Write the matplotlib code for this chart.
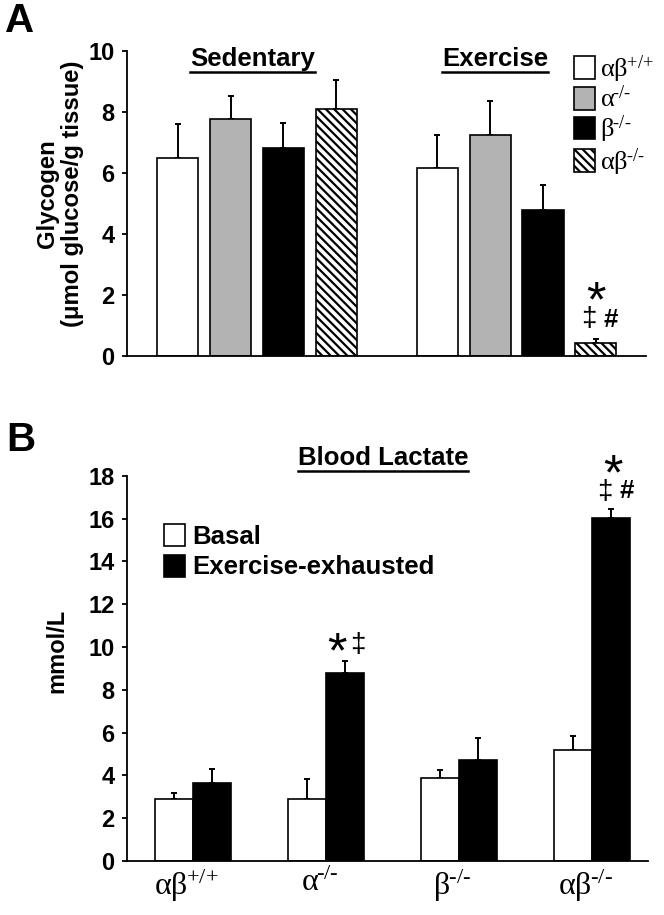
import matplotlib
matplotlib.use("Agg")
import matplotlib.pyplot as plt
from matplotlib.patches import Patch
from matplotlib.lines import Line2D
import numpy as np

plt.rcParams['font.family'] = ['Liberation Sans', 'DejaVu Sans']
plt.rcParams['mathtext.fontset'] = 'custom'
plt.rcParams['mathtext.rm'] = 'Liberation Serif'
plt.rcParams['mathtext.it'] = 'Liberation Serif'
plt.rcParams['mathtext.bf'] = 'Liberation Serif:bold'
plt.rcParams['mathtext.sf'] = 'Liberation Sans'
plt.rcParams['hatch.linewidth'] = 1.6

# ---- Panel A data ----
genotypes_A = [r'$\alpha\beta^{\!\text{+/+}}$', r'$\alpha^{\!\text{-/-}}$', r'$\beta^{\!\text{-/-}}$', r'$\alpha\beta^{\!\text{-/-}}$']
sed_glycogen = [6.48, 7.76, 6.8, 8.1]
sed_err = [1.12, 0.76, 0.84, 0.94]
ex_glycogen = [6.15, 7.22, 4.78, 0.42]
ex_err = [1.07, 1.13, 0.83, 0.13]
conditions_A = ['Sedentary', 'Exercise']

# ---- Panel B data ----
genotypes_B = [r'$\alpha\beta^{\!\text{+/+}}$', r'$\alpha^{\!\text{-/-}}$', r'$\beta^{\!\text{-/-}}$', r'$\alpha\beta^{\!\text{-/-}}$']
basal_lactate = [2.9, 2.9, 3.9, 5.2]
basal_err = [0.28, 0.95, 0.35, 0.64]
exh_lactate = [3.66, 8.8, 4.73, 16.03]
exh_err = [0.64, 0.55, 1.0, 0.43]
series_B = ['Basal', 'Exercise-exhausted']

W, H = 664, 915
fig = plt.figure(figsize=(W/100, H/100), dpi=100)

def px_axes(l, t, r, b):
    return fig.add_axes([l/W, 1-b/H, (r-l)/W, (b-t)/H])

styles = [dict(facecolor='white', hatch=None),
          dict(facecolor='#b3b3b3', hatch=None),
          dict(facecolor='black', hatch=None),
          dict(facecolor='white', hatch='\\\\\\\\')]

def style_axes(ax):
    for s in ['top', 'right']:
        ax.spines[s].set_visible(False)
    for s in ['left', 'bottom']:
        ax.spines[s].set_linewidth(1.3)
    ax.tick_params(axis='y', labelsize=17, width=1.3, length=3.5, pad=5)
    for lab in ax.get_yticklabels():
        lab.set_fontweight('bold')

# ---------- Panel A ----------
axA = px_axes(126.5, 50.7, 646, 355.7)
bw = 0.78
offset = 4.92
for gi, (vals, errs) in enumerate([(sed_glycogen, sed_err), (ex_glycogen, ex_err)]):
    xs = np.arange(4) + gi*offset
    for i in range(4):
        st = styles[i]
        axA.bar(xs[i], vals[i], width=bw, color=st['facecolor'], edgecolor='black',
                hatch=st['hatch'], linewidth=1.2, zorder=2)
        axA.errorbar(xs[i], vals[i], yerr=[[0], [errs[i]]], fmt='none', ecolor='black',
                     elinewidth=1.4, capsize=2.5, capthick=1.4, zorder=1)
axA.set_xlim(-0.97, 8.87)
axA.set_ylim(0, 10)
axA.set_yticks([0, 2, 4, 6, 8, 10])
axA.tick_params(axis='x', length=0, labelbottom=False)
style_axes(axA)
fig.text(60/W, 1-194/H, 'Glycogen\n(\u03bcmol glucose/g tissue)', rotation=90,
         ha='center', va='center', fontsize=17.2, fontweight='bold', linespacing=1.1)

tA = []
tA.append(fig.text(252.5/W, 1-59/H, conditions_A[0], ha='center', va='center', fontsize=18.5, fontweight='bold'))
tA.append(fig.text(495/W, 1-59/H, conditions_A[1], ha='center', va='center', fontsize=18.5, fontweight='bold'))

# Legend A
handlesA = [Patch(facecolor=s['facecolor'], edgecolor='black', hatch=s['hatch'], linewidth=1.2) for s in styles]
legA = fig.legend(handlesA, genotypes_A, loc='upper left', bbox_to_anchor=(574/W, 1-53/H),
                  frameon=False, fontsize=19, handlelength=0.8, handleheight=0.95,
                  handletextpad=0.2, labelspacing=0.05, borderpad=0, borderaxespad=0)

# annotations A
x_last = 3 + offset
axA.text(x_last, 1.30, '*', ha='center', va='baseline', fontsize=36)
axA.text(x_last - 0.14, 0.97, '\u2021', ha='center', va='baseline', fontsize=20)
axA.text(x_last + 0.28, 0.95, '#', ha='center', va='baseline', fontsize=18.5, fontweight='bold')

fig.text(20/W, 1-21/H, 'A', ha='center', va='center', fontsize=29, fontweight='bold')

# ---------- Panel B ----------
axB = px_axes(126.5, 475.7, 648, 861)
bwB = 0.286
xsB = np.arange(4)
axB.bar(xsB - bwB/2, basal_lactate, width=bwB, color='white', edgecolor='black', linewidth=1.2,
        zorder=2, label=series_B[0])
axB.bar(xsB + bwB/2, exh_lactate, width=bwB, color='black', edgecolor='black', linewidth=1.2,
        zorder=2, label=series_B[1])
axB.errorbar(xsB - bwB/2, basal_lactate, yerr=[np.zeros(4), basal_err], fmt='none', ecolor='black',
             elinewidth=1.4, capsize=2.5, capthick=1.4, zorder=1)
axB.errorbar(xsB + bwB/2, exh_lactate, yerr=[np.zeros(4), exh_err], fmt='none', ecolor='black',
             elinewidth=1.4, capsize=2.5, capthick=1.4, zorder=1)
axB.set_xlim(-0.499, 3.42)
axB.set_ylim(0, 18)
axB.set_yticks(np.arange(0, 19, 2))
axB.set_xticks(xsB - 0.05)
axB.set_xticklabels(genotypes_B, fontsize=23)
axB.tick_params(axis='x', length=0, pad=5)
style_axes(axB)
fig.text(57/W, 1-651/H, 'mmol/L', rotation=90, ha='center', va='center', fontsize=17, fontweight='bold')

legB = fig.legend(handles=[Patch(facecolor='white', edgecolor='black', linewidth=1.2),
                           Patch(facecolor='black', edgecolor='black', linewidth=1.2)],
                  labels=series_B, loc='upper left', bbox_to_anchor=(164/W, 1-524/H),
                  frameon=False, fontsize=18.5, handlelength=0.8, handleheight=0.95,
                  handletextpad=0.28, labelspacing=0.22, borderpad=0, borderaxespad=0)
for t in legB.get_texts():
    t.set_fontweight('bold')

tB = fig.text(383/W, 1-458/H, 'Blood Lactate', ha='center', va='center', fontsize=18.5, fontweight='bold')

# annotations B
axB.text(1.085, 9.05, '*', ha='center', va='baseline', fontsize=36)
axB.text(1.236, 9.78, '\u2021', ha='center', va='baseline', fontsize=20)
axB.text(3.159, 17.38, '*', ha='center', va='baseline', fontsize=36)
axB.text(3.093, 16.9, '\u2021', ha='center', va='baseline', fontsize=20)
axB.text(3.259, 16.95, '#', ha='center', va='baseline', fontsize=18.5, fontweight='bold')

fig.text(21/W, 1-440/H, 'B', ha='center', va='center', fontsize=29, fontweight='bold')

# underline titles
fig.canvas.draw()
r = fig.canvas.get_renderer()
for t in tA + [tB]:
    bb = t.get_window_extent(renderer=r)
    y = bb.y0 - 1
    fig.add_artist(Line2D([bb.x0/W, bb.x1/W], [y/H, y/H],
                          transform=fig.transFigure, color='black', linewidth=1.8))

fig.savefig('out.png', dpi=100)
